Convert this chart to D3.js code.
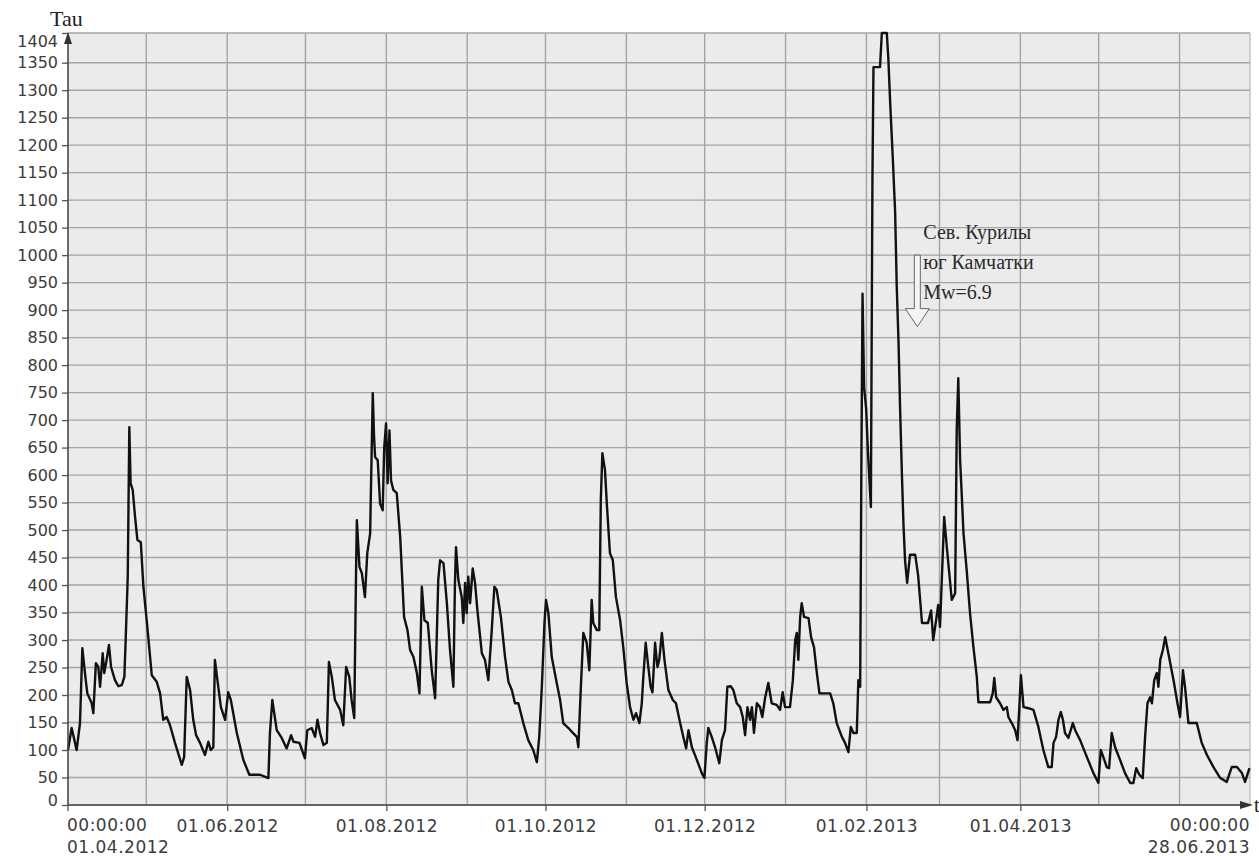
<!DOCTYPE html>
<html>
<head>
<meta charset="utf-8">
<script src="https://cdn.jsdelivr.net/npm/d3@7"></script>
<style>
  html, body { margin: 0; padding: 0; background: #ffffff; }
  svg { display: block; }
</style>
</head>
<body>
<svg id="chart" width="1259" height="856"></svg>
<script>
// Tau index, daily series from 01.04.2012 to 28.06.2013
const startDate = new Date(Date.UTC(2012, 3, 1));
const endDate = new Date(Date.UTC(2013, 5, 28));

// days elapsed since 01.04.2012 00:00:00
const dayOffset = [
  0, 1.4, 3.3, 4.6, 5.5, 6.5, 7.4, 9.1, 9.7, 10.7, 11.6, 12.3, 13.3, 13.9, 14.8, 15.7,
  16.5, 18.0, 19.3, 20.6, 21.6, 22.1, 22.9, 23.5, 24.0, 24.8, 25.7, 26.6, 27.9, 28.9,
  30.4, 32.1, 34.0, 35.3, 36.5, 37.8, 39.1, 41.0, 43.6, 44.5, 45.5, 46.8, 48.0, 49.1,
  50.6, 52.5, 53.8, 54.7, 55.7, 56.3, 57.4, 58.6, 60.2, 61.4, 62.4, 64.7, 67.2, 69.5,
  73.6, 76.8, 77.4, 78.3, 80.0, 81.9, 83.8, 85.5, 86.4, 88.7, 90.8, 91.7, 93.4, 94.7,
  95.6, 96.6, 97.9, 99.2, 100.0, 101.1, 102.3, 104.3, 105.5, 106.6, 107.8, 108.7, 109.7,
  110.4, 110.7, 111.7, 112.6, 113.8, 114.7, 115.8, 116.0, 116.8, 117.3, 117.7, 118.7,
  119.6, 120.6, 121.2, 121.9, 122.5, 123.2, 123.8, 124.7, 126.0, 127.3, 128.8, 130.1,
  131.1, 132.4, 133.7, 134.7, 135.6, 136.6, 137.9, 139.4, 140.7, 141.9, 142.6, 143.9,
  145.2, 146.4, 147.7, 148.3, 148.7, 149.6, 150.9, 151.5, 152.2, 152.8, 153.4, 154.1,
  155.1, 156.0, 156.9, 158.6, 159.8, 161.1, 162.4, 163.4, 164.3, 165.9, 167.5, 168.8,
  170.1, 171.3, 172.6, 174.5, 176.4, 178.3, 179.7, 180.6, 181.6, 182.6, 183.2, 184.1,
  185.4, 187.1, 188.6, 189.8, 191.8, 193.5, 195.0, 195.6, 196.5, 197.5, 198.8, 199.8,
  200.7, 201.3, 202.7, 203.6, 204.2, 204.8, 205.8, 206.5, 207.7, 208.8, 210.0, 211.6,
  212.8, 214.1, 215.4, 216.7, 217.7, 219.0, 219.9, 220.5, 221.4, 222.4, 223.3, 224.0,
  225.0, 225.9, 226.6, 227.6, 228.6, 230.1, 231.8, 233.0, 234.6, 235.8, 236.9, 237.8,
  239.1, 241.0, 242.9, 243.9, 244.8, 245.4, 246.7, 248.0, 249.6, 250.6, 251.8, 252.7,
  254.0, 255.0, 256.3, 257.6, 258.6, 259.5, 260.4, 261.4, 262.1, 262.9, 264.0, 265.2,
  266.1, 267.2, 268.4, 269.7, 271.6, 272.9, 273.9, 274.8, 276.7, 277.8, 278.7, 279.3,
  279.9, 280.6, 281.2, 282.1, 283.8, 284.8, 285.9, 287.0, 288.0, 292.1, 293.3, 294.6,
  296.6, 297.8, 299.1, 300.0, 301.0, 302.3, 302.9, 303.6, 304.1, 304.5, 305.1, 305.9,
  306.6, 307.7, 308.3, 308.7, 311.2, 311.9, 313.8, 314.4, 315.1, 316.1, 317.0, 317.6,
  318.3, 318.9, 319.6, 320.2, 320.8, 321.6, 322.7, 324.7, 325.8, 327.3, 329.6, 330.8,
  331.6, 332.7, 333.5, 334.2, 335.8, 336.8, 338.7, 340.0, 340.6, 341.2, 341.9, 342.5,
  343.2, 344.5, 345.7, 347.0, 348.3, 348.9, 353.4, 354.4, 355.0, 355.7, 357.2, 358.5,
  359.8, 360.4, 361.7, 363.0, 363.9, 364.6, 365.2, 366.2, 368.1, 370.0, 371.9, 373.8,
  375.7, 377.0, 377.7, 378.7, 379.6, 380.5, 381.3, 382.1, 383.4, 385.1, 386.0, 387.9,
  390.5, 393.0, 394.9, 395.8, 396.8, 398.1, 399.0, 400.0, 401.3, 403.2, 405.1, 407.1,
  408.3, 409.4, 410.6, 411.9, 412.8, 413.7, 414.7, 415.4, 416.3, 417.3, 417.9, 418.6,
  419.6, 420.5, 421.7, 423.7, 425.2, 426.2, 427.3, 428.1, 429.4, 432.6, 434.5, 436.5,
  439.0, 441.6, 444.1, 446.0, 448.0, 449.9, 451.1, 452.8
];

// Tau value for each day above
const tau = [
  100, 140, 100, 149, 285, 240, 203, 185, 167, 258, 251, 215, 276, 240, 264, 291,
  251, 227, 216, 218, 233, 300, 415, 687, 585, 573, 524, 482, 478, 397,
  324, 236, 224, 203, 155, 160, 145, 113, 73, 87, 233, 209, 155, 127,
  113, 91, 115, 100, 105, 264, 222, 178, 155, 205, 191, 131, 82, 55,
  55, 49, 131, 191, 136, 122, 103, 127, 115, 113, 85, 136, 140, 124,
  155, 131, 109, 113, 260, 233, 191, 173, 145, 251, 233, 191, 158,
  427, 518, 433, 422, 378, 458, 494, 548, 749, 669, 633, 627,
  548, 536, 651, 694, 585, 681, 590, 573, 567, 488, 342, 318,
  282, 269, 240, 203, 397, 336, 331, 245, 194, 409, 445, 440,
  367, 282, 215, 404, 469, 409, 378, 331, 404, 349, 415, 367,
  430, 404, 354, 276, 264, 227, 318, 397, 391, 342, 269, 224,
  209, 185, 185, 149, 118, 100, 78, 124, 215, 331, 373, 349,
  269, 227, 191, 149, 140, 131, 124, 105, 209, 313, 295, 245,
  373, 331, 318, 318, 555, 640, 609, 548, 458, 445, 378, 336,
  287, 222, 178, 155, 167, 149, 185, 233, 295, 251, 215, 205,
  295, 251, 264, 313, 264, 209, 191, 185, 149, 124, 103, 136,
  105, 82, 58, 49, 113, 140, 124, 105, 76, 118, 136, 215,
  216, 209, 185, 178, 160, 127, 178, 155, 178, 131, 185, 178,
  160, 196, 222, 185, 182, 173, 205, 178, 178, 227, 300, 313,
  264, 342, 367, 342, 340, 305, 287, 240, 203, 203, 185, 149,
  124, 113, 96, 142, 131, 131, 227, 215, 650, 930, 760, 720,
  640, 542, 1140, 1342, 1342, 1404, 1404, 1357, 1277, 1176, 1078, 945,
  842, 721, 600, 509, 445, 404, 455, 455, 418, 331, 331, 354,
  300, 336, 364, 324, 524, 469, 373, 385, 682, 776, 627, 567,
  494, 422, 349, 287, 233, 187, 187, 203, 231, 196, 185, 173,
  178, 160, 149, 136, 118, 178, 236, 178, 176, 173, 142, 100,
  69, 69, 113, 124, 155, 169, 155, 131, 122, 149, 136, 118,
  87, 58, 40, 100, 87, 69, 67, 131, 105, 82, 58, 40,
  40, 67, 55, 49, 124, 185, 196, 185, 227, 240, 215, 264,
  282, 305, 276, 227, 185, 160, 245, 215, 149, 149, 113, 91,
  69, 49, 42, 69, 69, 58, 42, 67
];

// Axis ticks and labels
const yTickValues = d3.range(0, 1351, 50).concat([1404]);
const xLabelDates = [
  new Date(Date.UTC(2012, 5, 1)), new Date(Date.UTC(2012, 7, 1)),
  new Date(Date.UTC(2012, 9, 1)), new Date(Date.UTC(2012, 11, 1)),
  new Date(Date.UTC(2013, 1, 1)), new Date(Date.UTC(2013, 3, 1))
];
const startLabel = ["00:00:00", "01.04.2012"];
const endLabel = ["00:00:00", "28.06.2013"];
const yAxisTitle = "Tau";
const xAxisTitle = "t";
const noteLines = ["Сев. Курилы", "юг Камчатки", "Mw=6.9"];
const noteDate = new Date(Date.UTC(2013, 1, 20, 12));
const noteValue = [1000, 870];

const svg = d3.select("#chart");
const plotL = 68, plotR = 1250, plotT = 33, plotB = 805;

const x = d3.scaleUtc().domain([startDate, endDate]).range([plotL, plotR]);
const y = d3.scaleLinear().domain([0, 1404]).range([plotB, plotT]);
const fmt = d3.utcFormat("%d.%m.%Y");
const sans = "'DejaVu Sans', Verdana, sans-serif";
const serif = "'Liberation Serif', 'Times New Roman', serif";

// plot background
svg.append("rect")
  .attr("x", plotL).attr("y", plotT)
  .attr("width", plotR - plotL).attr("height", plotB - plotT)
  .attr("fill", "#ebebeb");

// grid
const monthStarts = d3.utcMonth.range(d3.utcMonth.offset(startDate, 1), endDate);
const grid = svg.append("g").attr("stroke", "#a4a4a4").attr("stroke-width", 1.4);
grid.selectAll("line.h").data(yTickValues).join("line").attr("class", "h")
  .attr("x1", plotL).attr("x2", plotR)
  .attr("y1", d => y(d)).attr("y2", d => y(d));
grid.selectAll("line.v").data(monthStarts).join("line").attr("class", "v")
  .attr("x1", d => x(d)).attr("x2", d => x(d))
  .attr("y1", plotT).attr("y2", plotB);
svg.append("line").attr("x1", plotR).attr("x2", plotR).attr("y1", plotT).attr("y2", plotB)
  .attr("stroke", "#b5b5b5").attr("stroke-width", 1.2);

// y axis
const yAxis = d3.axisLeft(y).tickValues(yTickValues).tickSize(6).tickPadding(4).tickFormat(d3.format("d"));
const gy = svg.append("g").attr("transform", `translate(${plotL},0)`).call(yAxis);
gy.select(".domain").remove();
gy.selectAll(".tick line").attr("stroke", "#555").attr("stroke-width", 1.3);
gy.selectAll(".tick text")
  .attr("font-family", sans).attr("font-size", 16).attr("fill", "#3c3c3c")
  .attr("dy", d => d === 1404 ? "0.85em" : d === 0 ? "0.05em" : "0.32em");

// x axis ticks
const xAxis = d3.axisBottom(x).tickValues(xLabelDates).tickSize(6).tickPadding(9).tickFormat(fmt);
const gx = svg.append("g").attr("transform", `translate(0,${plotB})`).call(xAxis);
gx.select(".domain").remove();
gx.selectAll(".tick line").attr("stroke", "#555").attr("stroke-width", 1.3);
gx.selectAll(".tick text")
  .attr("font-family", sans).attr("font-size", 17).attr("fill", "#3c3c3c")
  .attr("letter-spacing", "0.5px");

// start and end labels
const edge = svg.append("g").attr("font-family", sans).attr("font-size", 17)
  .attr("fill", "#3c3c3c").attr("letter-spacing", "0.5px");
startLabel.forEach((t, i) => edge.append("text")
  .attr("x", x(startDate) - 1).attr("y", 831 + i * 22).text(t));
endLabel.forEach((t, i) => edge.append("text")
  .attr("x", x(endDate)).attr("y", 831 + i * 22).attr("text-anchor", "end").text(t));
svg.append("line").attr("x1", plotL).attr("x2", plotL).attr("y1", plotB).attr("y2", plotB + 6)
  .attr("stroke", "#555").attr("stroke-width", 1.3);

// data line
const line = d3.line()
  .x((d, i) => x(new Date(startDate.getTime() + dayOffset[i] * 864e5)))
  .y(d => y(d));
svg.append("path").datum(tau)
  .attr("d", line)
  .attr("fill", "none")
  .attr("stroke", "#111")
  .attr("stroke-width", 2.4)
  .attr("stroke-linejoin", "round");

// axes with arrows
const axisColor = "#4a4a4a";
svg.append("line").attr("x1", plotL).attr("x2", plotL).attr("y1", plotB).attr("y2", plotT + 2)
  .attr("stroke", axisColor).attr("stroke-width", 1.6);
svg.append("line").attr("x1", plotL).attr("x2", plotR - 2).attr("y1", plotB).attr("y2", plotB)
  .attr("stroke", axisColor).attr("stroke-width", 1.6);
svg.append("path")
  .attr("d", `M${plotL},${plotT - 1} L${plotL - 4},${plotT + 11} L${plotL + 4},${plotT + 11} Z`)
  .attr("fill", "#333");
svg.append("path")
  .attr("d", `M${plotR + 3},${plotB} L${plotR - 10},${plotB - 4} L${plotR - 10},${plotB + 4} Z`)
  .attr("fill", "#333");

// axis titles
svg.append("text").attr("x", 50).attr("y", 26)
  .attr("font-family", serif).attr("font-size", 22).attr("fill", "#222").text(yAxisTitle);
svg.append("text").attr("x", 1254).attr("y", 812)
  .attr("font-family", serif).attr("font-size", 20).attr("fill", "#222").text(xAxisTitle);

// earthquake note with hollow arrow
const ax = x(noteDate), yTopArrow = y(noteValue[0]), yTip = y(noteValue[1]);
svg.append("path")
  .attr("d", `M${ax - 3},${yTopArrow} L${ax + 3},${yTopArrow} L${ax + 3},${yTip - 18}
              L${ax + 12},${yTip - 18} L${ax},${yTip} L${ax - 12},${yTip - 18}
              L${ax - 3},${yTip - 18} Z`)
  .attr("fill", "#f4f4f4").attr("stroke", "#666").attr("stroke-width", 1);
const note = svg.append("g").attr("font-family", serif).attr("font-size", 20).attr("fill", "#2a2a2a");
noteLines.forEach((t, i) => note.append("text")
  .attr("x", ax + 6).attr("y", 239 + i * 30).text(t));
</script>
</body>
</html>
